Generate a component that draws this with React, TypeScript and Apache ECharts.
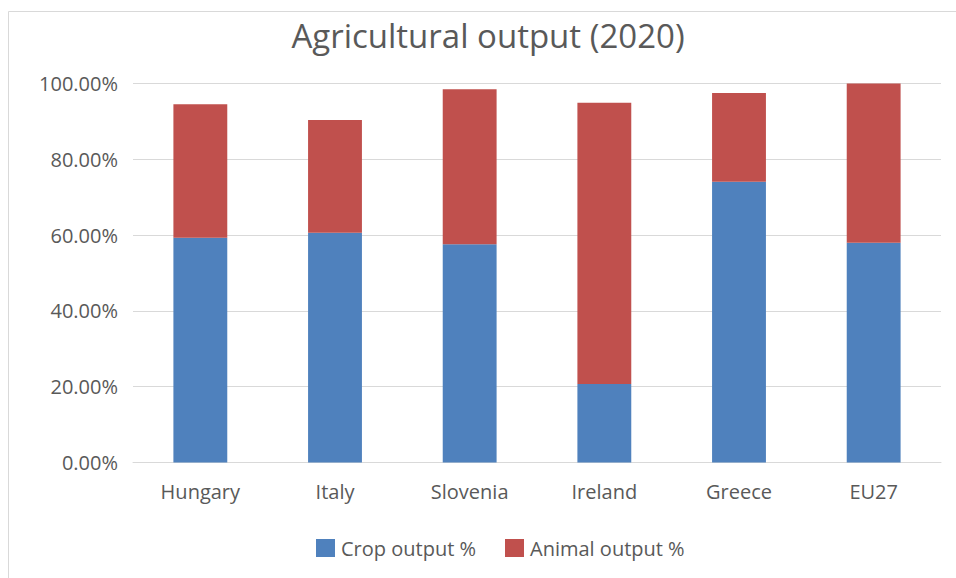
import React, { useEffect, useRef } from "react";
import * as echarts from "echarts";

const categories = ["Hungary", "Italy", "Slovenia", "Ireland", "Greece", "EU27"];
const cropOutput = [0.593, 0.606, 0.576, 0.207, 0.741, 0.58];
const animalOutput = [0.352, 0.298, 0.409, 0.742, 0.234, 0.42];
const yTicks = [0, 0.2, 0.4, 0.6, 0.8, 1.0];

const FONT = "'Open Sans', 'Noto Sans', sans-serif";

export default function App() {
  const ref = useRef<HTMLDivElement>(null);
  useEffect(() => {
    if (!ref.current) return;
    const chart = echarts.init(ref.current, undefined, { renderer: "svg" });
    chart.setOption({
      animation: false,
      backgroundColor: "#ffffff",
      title: {
        text: "Agricultural output (2020)",
        left: 483,
        textAlign: "center",
        top: 14,
        textStyle: { fontFamily: FONT, fontSize: 33, fontWeight: "normal", color: "#595959" },
      },
      graphic: [
        {
          type: "rect",
          shape: { x: 8.5, y: 11.5, width: 1000, height: 1000 },
          style: { fill: "none", stroke: "#D9D9D9", lineWidth: 1 },
          silent: true,
        },
      ],
      legend: {
        top: 533,
        left: 311,
        itemWidth: 19,
        itemHeight: 18,
        itemGap: 29,
        icon: "rect",
        textStyle: { fontFamily: FONT, fontSize: 20, color: "#595959", padding: [0, 0, 0, 1] },
        data: ["Crop output %", "Animal output %"],
      },
      grid: { left: 133, right: 15, top: 83.5, bottom: 115.5, containLabel: false },
      xAxis: {
        type: "category",
        data: categories,
        axisLine: { lineStyle: { color: "#D9D9D9" } },
        axisTick: { show: false },
        axisLabel: { fontFamily: FONT, fontSize: 20, color: "#595959", margin: 19 },
      },
      yAxis: {
        type: "value",
        min: yTicks[0],
        max: yTicks[yTicks.length - 1],
        interval: 0.2,
        axisLine: { show: false },
        axisTick: { show: false },
        splitLine: { lineStyle: { color: "#D9D9D9" } },
        axisLabel: {
          fontFamily: FONT,
          fontSize: 20,
          color: "#595959",
          margin: 15,
          formatter: (v: number) => (v * 100).toFixed(2) + "%",
        },
      },
      series: [
        {
          name: "Crop output %",
          type: "bar",
          stack: "total",
          barWidth: "40%",
          data: cropOutput,
          itemStyle: { color: "#4F81BD" },
        },
        {
          name: "Animal output %",
          type: "bar",
          stack: "total",
          barWidth: "40%",
          data: animalOutput,
          itemStyle: { color: "#C0504D" },
        },
      ],
    });
    return () => chart.dispose();
  }, []);
  return (
    <div
      ref={ref}
      style={{ position: "absolute", left: 0, top: 0, width: 956, height: 578 }}
    />
  );
}
